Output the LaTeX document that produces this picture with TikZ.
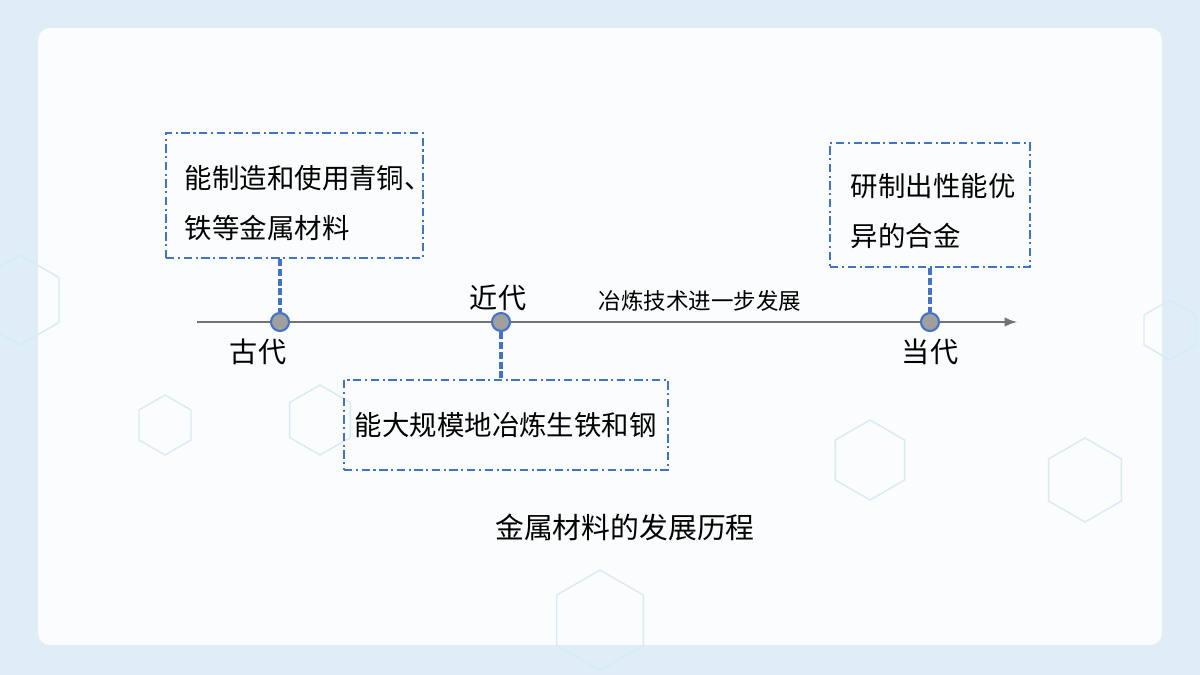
\documentclass[tikz,border=0pt]{standalone}
\usepackage{fontspec}
\setmainfont{Noto Sans CJK SC}
\usetikzlibrary{positioning}
\definecolor{lineblue}{RGB}{68,114,196}
\definecolor{bgblue}{RGB}{200,225,240}
\begin{document}
\begin{tikzpicture}[x=0.025cm,y=-0.025cm,
%defines
  box/.style={draw=lineblue,line width=1.3pt,dash pattern=on 6pt off 2.5pt on 1.5pt off 2.5pt,inner sep=0pt},
  era/.style={circle,draw=lineblue,fill=gray!75,line width=1.5pt,inner sep=0pt,minimum size=0.45cm},
  stem/.style={draw=lineblue,line width=2.2pt,dash pattern=on 5pt off 2pt},
  txt/.style={font=\fontsize{19.5}{35.5}\selectfont,align=left,anchor=west},
  lbl/.style={font=\fontsize{20}{22}\selectfont}]
%background
\useasboundingbox (0,0) rectangle (1200,675);
\clip (0,0) rectangle (1200,675);
\fill[bgblue!60] (0,0) rectangle (1200,675);
\fill[white,opacity=0.85,rounded corners=0.3cm] (38,28) rectangle (1162,645);
\foreach \cx/\cy/\r in {870/460/40,1085/480/42,165/425/30,320/420/35,1170/330/30,20/300/45,600/620/50}
  \draw[bgblue!70,line width=1pt] (\cx,\cy) ++(30:\r) -- ++(150:\r) -- ++(210:\r) -- ++(270:\r) -- ++(330:\r) -- ++(30:\r) -- cycle;
%nodes
\coordinate (start) at (197,322);
\coordinate (end) at (1017,322);
\draw[gray!90!black,line width=2pt,-latex] (start) -- (end);
\node[era] (ancient) at (280,322) {};
\node[era] (modern) at (501,322) {};
\node[era] (today) at (930,322) {};
\node[box,minimum width=6.425cm,minimum height=3.125cm] (ancientbox) at (294.5,195.5) {};
\node[txt] at (180,203) {能制造和使用青铜、\\铁等金属材料};
\node[box,minimum width=8.1cm,minimum height=2.25cm] (modernbox) at (506,425) {};
\node[txt] at (350,425) {能大规模地冶炼生铁和钢};
\node[box,minimum width=5cm,minimum height=3.1cm] (todaybox) at (930,205) {};
\node[txt] at (846,211) {研制出性能优\\异的合金};
\node[lbl] (ancientlbl) at (258,352) {古代};
\node[lbl] (modernlbl) at (498,298) {近代};
\node[lbl] (todaylbl) at (930,352) {当代};
\node[font=\fontsize{16}{18}\selectfont] (progress) at (700,301) {冶炼技术进一步发展};
\node[font=\fontsize{20.5}{22}\selectfont] (title) at (625,527) {金属材料的发展历程};
%links
\draw[stem] (ancientbox.south -| ancient) -- (ancient);
\draw[stem] (modern) -- (modernbox.north -| modern);
\draw[stem] (todaybox.south -| today) -- (today);
\end{tikzpicture}
\end{document}
